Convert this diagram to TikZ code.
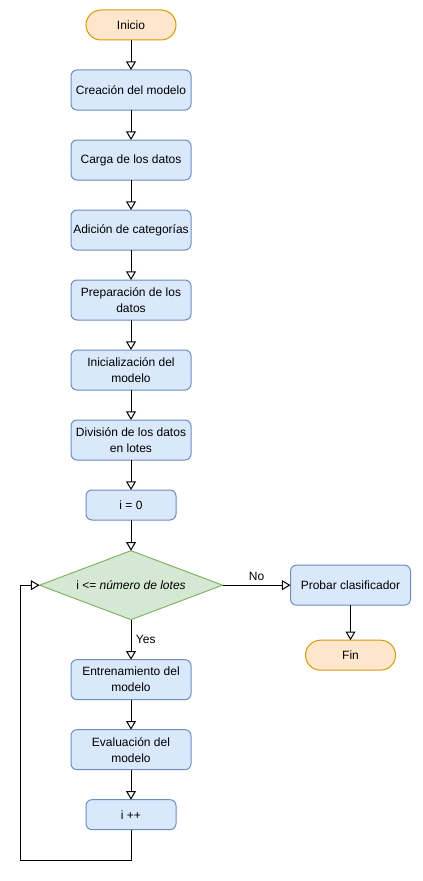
\documentclass[tikz,border=0pt]{standalone}
\usepackage{fontspec}
\setmainfont{Liberation Sans}
\usetikzlibrary{positioning,shapes.geometric,arrows.meta}
\definecolor{bluefill}{HTML}{DAE8FC}
\definecolor{bluedraw}{HTML}{6C8EBF}
\definecolor{greenfill}{HTML}{D5E8D4}
\definecolor{greendraw}{HTML}{82B366}
\definecolor{orangefill}{HTML}{FFE6CC}
\definecolor{orangedraw}{HTML}{D79B00}

\begin{document}
\begin{tikzpicture}[x=0.75pt,y=-0.75pt, line width=0.75pt,
    font=\fontsize{9}{12}\selectfont,
    box/.style={rectangle, draw=bluedraw, fill=bluefill, rounded corners=4.5pt,
        minimum width=90pt, minimum height=30pt, align=center, inner sep=1pt,
        outer sep=0pt},
    smallbox/.style={box, minimum width=67.5pt, minimum height=22.5pt},
    term/.style={box, draw=orangedraw, fill=orangefill, rounded corners=11.25pt,
        minimum width=67.5pt, minimum height=22.5pt},
    cond/.style={diamond, draw=greendraw, fill=greenfill, aspect=2.6, inner sep=0pt,
        outer sep=0pt, minimum width=137.25pt, minimum height=51.75pt},
    >={Triangle[open,length=6.5pt,width=7.5pt]}, node distance=22.5pt]

    \useasboundingbox (0,0) rectangle (422,881);

    \node[term] (ini) at (131,25) {Inicio};
    \node[box] (crea) [below=of ini] {Creación del modelo};
    \node[box] (carga) [below=of crea] {Carga de los datos};
    \node[box] (cat) [below=of carga] {Adición de categorías};
    \node[box] (prep) [below=of cat] {Preparación de los\\datos};
    \node[box] (init) [below=of prep] {Inicialización del\\modelo};
    \node[box] (div) [below=of init] {División de los datos\\en lotes};
    \node[smallbox] (zero) [below=of div] {i = 0};
    \node[cond] (cond) [below=23pt of zero] {i <= \textit{número de lotes}};
    \node[box] (train) [below=30pt of cond] {Entrenamiento del\\modelo};
    \node[box] (eval) [below=of train] {Evaluación del\\modelo};
    \node[smallbox] (inc) [below=of eval] {i ++};
    \node[box] (test) [right=51pt of cond] {Probar clasificador};
    \node[term] (fin) [below=26.25pt of test] {Fin};
    \coordinate (loop) at (20,860);

    \draw[->] (ini) -- (crea);
    \draw[->] (crea) -- (carga);
    \draw[->] (carga) -- (cat);
    \draw[->] (cat) -- (prep);
    \draw[->] (prep) -- (init);
    \draw[->] (init) -- (div);
    \draw[->] (div) -- (zero);
    \draw[->] (zero) -- (cond);
    \draw[->] (cond) -- node[right, pos=0.5] (yes) {Yes} (train);
    \draw[->] (cond) -- node[above, pos=0.5] (no) {No} (test);
    \draw[->] (train) -- (eval);
    \draw[->] (eval) -- (inc);
    \draw[->] (test) -- (fin);
    \draw[->] (inc) |- (loop) |- (cond);
\end{tikzpicture}
\end{document}
